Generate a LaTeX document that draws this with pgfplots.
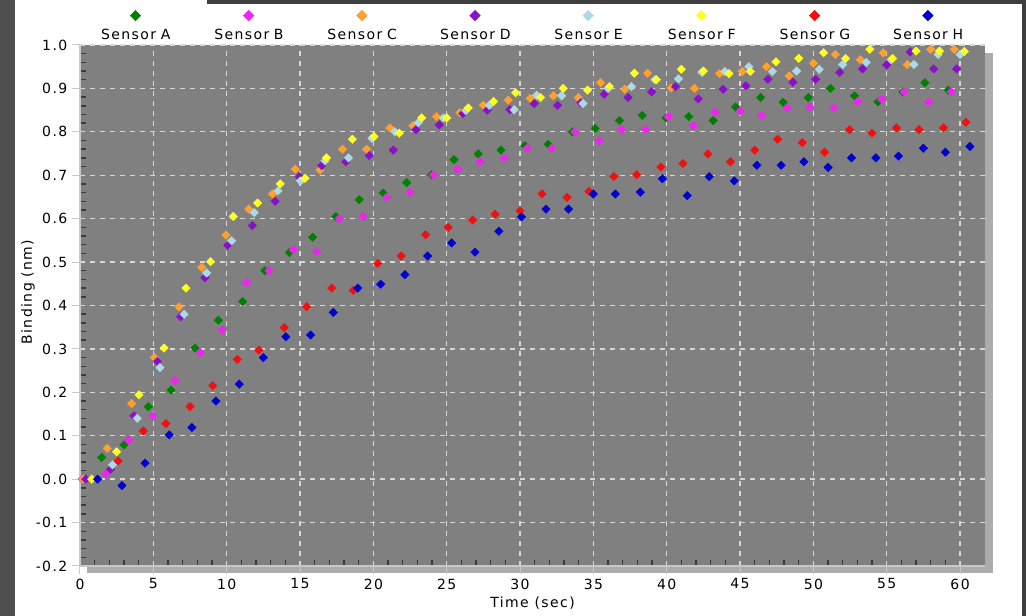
\documentclass[border=0pt]{standalone}
\usepackage{pgfplots}
\pgfplotsset{compat=1.18}
\usepackage{fontspec}
\setmainfont{DejaVu Sans}[LetterSpace=10]
\newcommand\f{\fontsize{10.5pt}{12.5pt}\selectfont}
\definecolor{colA}{HTML}{008000}
\definecolor{colB}{HTML}{F024F0}
\definecolor{colC}{HTML}{FFA030}
\definecolor{colD}{HTML}{8A10C8}
\definecolor{colE}{HTML}{ADD8E6}
\definecolor{colF}{HTML}{FFFF20}
\definecolor{colG}{HTML}{F01010}
\definecolor{colH}{HTML}{0000D0}
\definecolor{plotgray}{HTML}{808080}
\definecolor{shadowgray}{HTML}{ACACAC}
\definecolor{axisgray}{HTML}{C8C8C8}
\definecolor{gridgray}{HTML}{D8D8D8}
\definecolor{minorgray}{HTML}{3A3A3A}
\definecolor{stripgray}{HTML}{4E4E4E}
\definecolor{bargray}{HTML}{3F3F3F}

\pgfplotstableread{
x y
1.48 0.05
3.0 0.079
4.66 0.167
6.2 0.205
7.84 0.302
9.43 0.366
11.09 0.409
12.6 0.48
14.27 0.522
15.86 0.557
17.45 0.605
19.04 0.644
20.67 0.659
22.27 0.683
23.97 0.701
25.5 0.736
27.15 0.749
28.7 0.758
30.33 0.768
31.92 0.771
33.58 0.80
35.13 0.808
36.77 0.826
38.33 0.838
39.95 0.832
41.5 0.835
43.17 0.826
44.7 0.857
46.4 0.879
47.94 0.868
49.65 0.879
51.17 0.90
52.8 0.883
54.4 0.869
56.1 0.892
57.6 0.913
59.2 0.896
}\dataA
\pgfplotstableread{
x y
0.15 0.0
1.77 0.012
3.3 0.09
4.95 0.146
6.48 0.227
8.18 0.292
9.7 0.344
11.36 0.453
12.9 0.48
14.54 0.528
16.13 0.524
17.68 0.60
19.3 0.605
20.9 0.649
22.5 0.661
24.1 0.701
25.75 0.714
27.27 0.731
28.93 0.74
30.5 0.762
32.15 0.762
33.74 0.80
35.4 0.779
36.93 0.805
38.56 0.805
40.1 0.835
41.8 0.814
43.3 0.845
45.0 0.848
46.5 0.838
48.2 0.855
49.76 0.857
51.4 0.855
53.0 0.869
54.65 0.875
56.2 0.892
57.85 0.869
59.4 0.892
}\dataB
\pgfplotstableread{
x y
0.2 0.0
1.86 0.071
3.52 0.174
5.07 0.28
6.75 0.397
8.3 0.488
9.95 0.562
11.5 0.622
13.13 0.657
14.68 0.714
16.36 0.712
17.9 0.76
19.54 0.76
21.13 0.809
22.7 0.814
24.3 0.835
25.9 0.844
27.5 0.861
29.2 0.873
30.7 0.877
32.27 0.883
33.97 0.879
35.5 0.913
37.15 0.898
38.7 0.935
40.3 0.901
41.9 0.90
43.6 0.934
45.15 0.939
46.8 0.95
48.35 0.929
50.0 0.958
51.5 0.978
53.2 0.966
54.76 0.982
56.4 0.955
58.0 0.99
59.6 0.99
}\dataC
\pgfplotstableread{
x y
0.4 0.0
2.09 0.023
3.68 0.146
5.27 0.271
6.86 0.374
8.52 0.464
10.07 0.539
11.75 0.584
13.3 0.64
14.95 0.697
16.48 0.722
18.13 0.731
19.72 0.745
21.36 0.758
22.9 0.805
24.5 0.816
26.1 0.842
27.77 0.85
29.3 0.851
30.97 0.865
32.56 0.861
34.15 0.867
35.74 0.887
37.37 0.879
38.97 0.892
40.6 0.904
42.15 0.876
43.85 0.898
45.4 0.906
46.9 0.921
48.6 0.914
50.15 0.921
51.8 0.937
53.35 0.945
55.0 0.954
56.6 0.984
58.2 0.945
59.76 0.945
}\dataD
\pgfplotstableread{
x y
2.22 0.033
3.9 0.14
5.45 0.257
7.1 0.38
8.63 0.475
10.34 0.549
11.88 0.614
13.5 0.664
15.04 0.687
16.7 0.733
18.3 0.74
19.9 0.785
21.47 0.80
23.06 0.821
24.77 0.832
26.3 0.849
27.9 0.861
29.6 0.851
31.13 0.884
32.84 0.883
34.3 0.865
36.0 0.90
37.6 0.904
39.2 0.92
40.8 0.922
42.4 0.937
43.97 0.939
45.6 0.95
47.2 0.939
48.85 0.94
50.4 0.944
52.0 0.955
53.6 0.96
55.3 0.966
56.85 0.955
58.5 0.978
60.0 0.978
}\dataE
\pgfplotstableread{
x y
0.8 0.0
2.5 0.063
4.02 0.194
5.73 0.302
7.23 0.44
8.9 0.501
10.45 0.605
12.11 0.636
13.65 0.68
15.34 0.693
16.8 0.74
18.57 0.783
20.04 0.789
21.77 0.797
23.3 0.832
25.0 0.832
26.47 0.855
28.2 0.87
29.7 0.89
31.4 0.879
32.95 0.90
34.6 0.896
36.1 0.904
37.8 0.935
39.3 0.92
41.0 0.944
42.5 0.94
44.25 0.934
45.7 0.939
47.45 0.961
49.0 0.969
50.7 0.982
52.2 0.969
53.85 0.99
55.4 0.969
57.0 0.986
58.6 0.986
60.3 0.985
}\dataF
\pgfplotstableread{
x y
2.6 0.042
4.32 0.111
5.86 0.128
7.5 0.167
9.04 0.215
10.72 0.276
12.2 0.297
13.93 0.349
15.45 0.397
17.16 0.44
18.63 0.435
20.3 0.497
21.9 0.514
23.56 0.563
25.1 0.58
26.77 0.597
28.3 0.61
30.0 0.618
31.5 0.657
33.2 0.649
34.7 0.663
36.4 0.697
37.95 0.701
39.6 0.719
41.1 0.727
42.8 0.749
44.35 0.731
46.0 0.758
47.56 0.783
49.24 0.775
50.76 0.753
52.47 0.805
54.0 0.797
55.67 0.809
57.2 0.805
58.87 0.809
60.4 0.822
}\dataG
\pgfplotstableread{
x y
1.2 0.0
2.86 -0.015
4.43 0.037
6.09 0.102
7.63 0.119
9.27 0.18
10.86 0.219
12.5 0.28
14.04 0.328
15.72 0.332
17.27 0.384
18.93 0.44
20.5 0.449
22.15 0.471
23.7 0.514
25.34 0.544
26.93 0.523
28.56 0.571
30.1 0.604
31.77 0.622
33.3 0.622
35.0 0.657
36.5 0.657
38.2 0.661
39.7 0.692
41.4 0.653
42.9 0.697
44.6 0.687
46.15 0.723
47.8 0.723
49.35 0.731
51.0 0.718
52.6 0.74
54.26 0.74
55.8 0.744
57.5 0.762
59.0 0.753
60.67 0.766
}\dataH

\pgfplotsset{sensor/.style={only marks, mark=square*, mark size=2.25pt, mark options={rotate=45, line width=0.3pt}}}

\begin{document}
\begin{tikzpicture}
\path[use as bounding box, fill=white] (0,0) rectangle (769.5pt,462pt);
\fill[stripgray] (0,0) rectangle (11.25pt,462pt);
\fill[bargray] (155.25pt,459pt) rectangle (769.5pt,462pt);
\fill[bargray] (766.5pt,0pt) rectangle (769.5pt,462pt);
\fill[shadowgray] (65.25pt,32.25pt) rectangle (744.75pt,422.25pt);
\begin{axis}[
  at={(60pt,37.5pt)}, anchor=south west,
  scale only axis, width=678.75pt, height=390.75pt,
  xmin=0, xmax=61.7, ymin=-0.2, ymax=1.0,
  axis lines=left,
  axis line style={-, draw=axisgray, line width=0.9pt},
  axis background/.style={fill=plotgray},
  xtick={0,5,10,15,20,25,30,35,40,45,50,55,60},
  xticklabels={0,5,10,15,20,25,30,35,40,45,50,55,60},
  ytick={-0.2,-0.1,0,0.1,0.2,0.3,0.4,0.5,0.6,0.7,0.8,0.9,1.0},
  yticklabels={-0.2,-0.1,0.0,0.1,0.2,0.3,0.4,0.5,0.6,0.7,0.8,0.9,1.0},
  minor x tick num=4, minor y tick num=4,
  tick align=outside,
  major tick length=6pt, minor tick length=-4.5pt,
  major tick style={draw=axisgray, line width=0.75pt},
  minor tick style={draw=minorgray, line width=1.1pt},
  grid=major,
  major grid style={draw=gridgray, line width=1pt, dash pattern=on 4pt off 3.5pt},
  tick label style={font=\f, text=black},
  /pgf/number format/assume math mode=true,
  xlabel={Time (sec)}, ylabel={Binding (nm)},
  label style={font=\f},
  xlabel style={at={(axis description cs:0.5,-0.071)}, anchor=center},
  ylabel style={at={(axis description cs:-0.0575,0.526)}, anchor=center},
  legend columns=8,
  legend style={at={(axis description cs:0.499,1.018)}, anchor=center,
    draw=none, fill=none, font=\f, inner sep=0pt, outer sep=0pt,
    /tikz/every even column/.append style={column sep=14.4pt},
    nodes={text width=70pt, align=center, inner sep=0pt}},
  legend image code/.code={\path (0pt,0pt) (0.1pt,0pt); \draw[#1,overlay,mark size=2.8pt] plot coordinates {(35.1pt,15pt)};},
]
\addplot[sensor, color=colA] table {\dataA};
\addlegendentry{Sensor A}
\addplot[sensor, color=colB] table {\dataB};
\addlegendentry{Sensor B}
\addplot[sensor, color=colC] table {\dataC};
\addlegendentry{Sensor C}
\addplot[sensor, color=colD] table {\dataD};
\addlegendentry{Sensor D}
\addplot[sensor, color=colE] table {\dataE};
\addlegendentry{Sensor E}
\addplot[sensor, color=colF] table {\dataF};
\addlegendentry{Sensor F}
\addplot[sensor, color=colG] table {\dataG};
\addlegendentry{Sensor G}
\addplot[sensor, color=colH] table {\dataH};
\addlegendentry{Sensor H}
\end{axis}
\end{tikzpicture}
\end{document}
